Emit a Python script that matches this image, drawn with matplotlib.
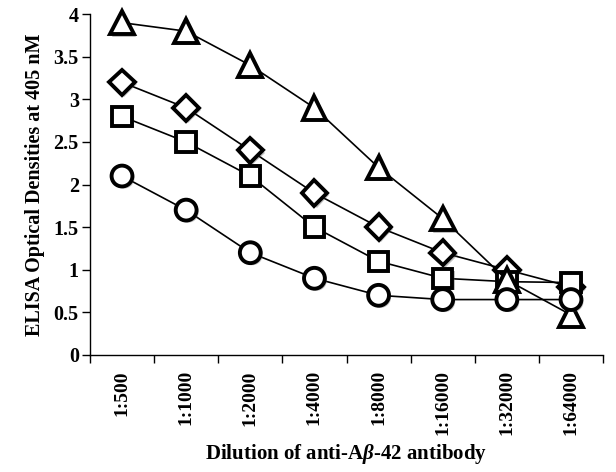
import matplotlib
matplotlib.use("Agg")
import matplotlib.pyplot as plt
import matplotlib.patheffects as pe
import numpy as np

plt.rcParams['font.family'] = ['Liberation Serif', 'DejaVu Serif']
plt.rcParams['font.weight'] = 'bold'
plt.rcParams['mathtext.fontset'] = 'custom'
plt.rcParams['mathtext.rm'] = 'Liberation Serif:bold'
plt.rcParams['mathtext.it'] = 'Liberation Serif:italic:bold'
plt.rcParams['mathtext.bf'] = 'Liberation Serif:bold'

categories = ["1:500", "1:1000", "1:2000", "1:4000", "1:8000", "1:16000", "1:32000", "1:64000"]
triangle_vals = [3.9, 3.8, 3.4, 2.9, 2.2, 1.6, 0.88, 0.47]
diamond_vals = [3.2, 2.9, 2.4, 1.9, 1.5, 1.2, 1.0, 0.8]
square_vals = [2.8, 2.5, 2.1, 1.5, 1.1, 0.9, 0.86, 0.85]
circle_vals = [2.1, 1.7, 1.2, 0.9, 0.7, 0.65, 0.65, 0.65]
yticks = [0, 0.5, 1, 1.5, 2, 2.5, 3, 3.5, 4]
ytick_labels = ["0", "0.5", "1", "1.5", "2", "2.5", "3", "3.5", "4"]

fig = plt.figure(figsize=(6.16, 4.72), dpi=100)
ax = fig.add_axes([0.146, 0.248, 0.833, 0.722])

x = np.arange(len(categories))
shadow = [pe.SimplePatchShadow(offset=(1.5, -1.5), alpha=0.35), pe.Normal()]
series = [
    (diamond_vals, 'D', 13),
    (square_vals, 's', 14),
    (triangle_vals, '^', 17),
    (circle_vals, 'o', 15),
]
z = 3
for vals, m, ms in series:
    ax.plot(x, vals, color='black', lw=1.2, clip_on=False, zorder=z)
    ax.plot(x, vals, linestyle='none', marker=m, markersize=ms,
            markerfacecolor='white', markeredgecolor='black', markeredgewidth=2.8,
            path_effects=shadow, clip_on=False, zorder=z + 0.5)
    z += 1

ax.set_xlim(-0.5, len(categories) - 0.5)
ax.set_ylim(0, 4)
ax.set_yticks(yticks)
ax.set_yticklabels(ytick_labels, fontsize=14.5, fontweight='bold')
ax.set_xticks(np.arange(len(categories) + 1) - 0.5)
ax.set_xticklabels([])
ax.set_xticks(x, minor=True)
ax.set_xticklabels(categories, minor=True, rotation=90, fontsize=14, fontweight='bold')
ax.tick_params(axis='x', which='minor', length=0, pad=11)
ax.tick_params(axis='x', which='major', length=6, width=1, direction='out')
ax.tick_params(axis='y', length=6, width=1, direction='out', pad=2)

for s in ['top', 'right']:
    ax.spines[s].set_visible(False)
for s in ['left', 'bottom']:
    ax.spines[s].set_linewidth(1)

ax.set_ylabel("ELISA Optical Densities at 405 nM", fontsize=14.5, fontweight='bold', labelpad=6)
ax.set_xlabel(r"Dilution of anti-A$\beta$-42 antibody", fontsize=15, fontweight='bold', labelpad=5)

fig.savefig("out.png", dpi=100)
